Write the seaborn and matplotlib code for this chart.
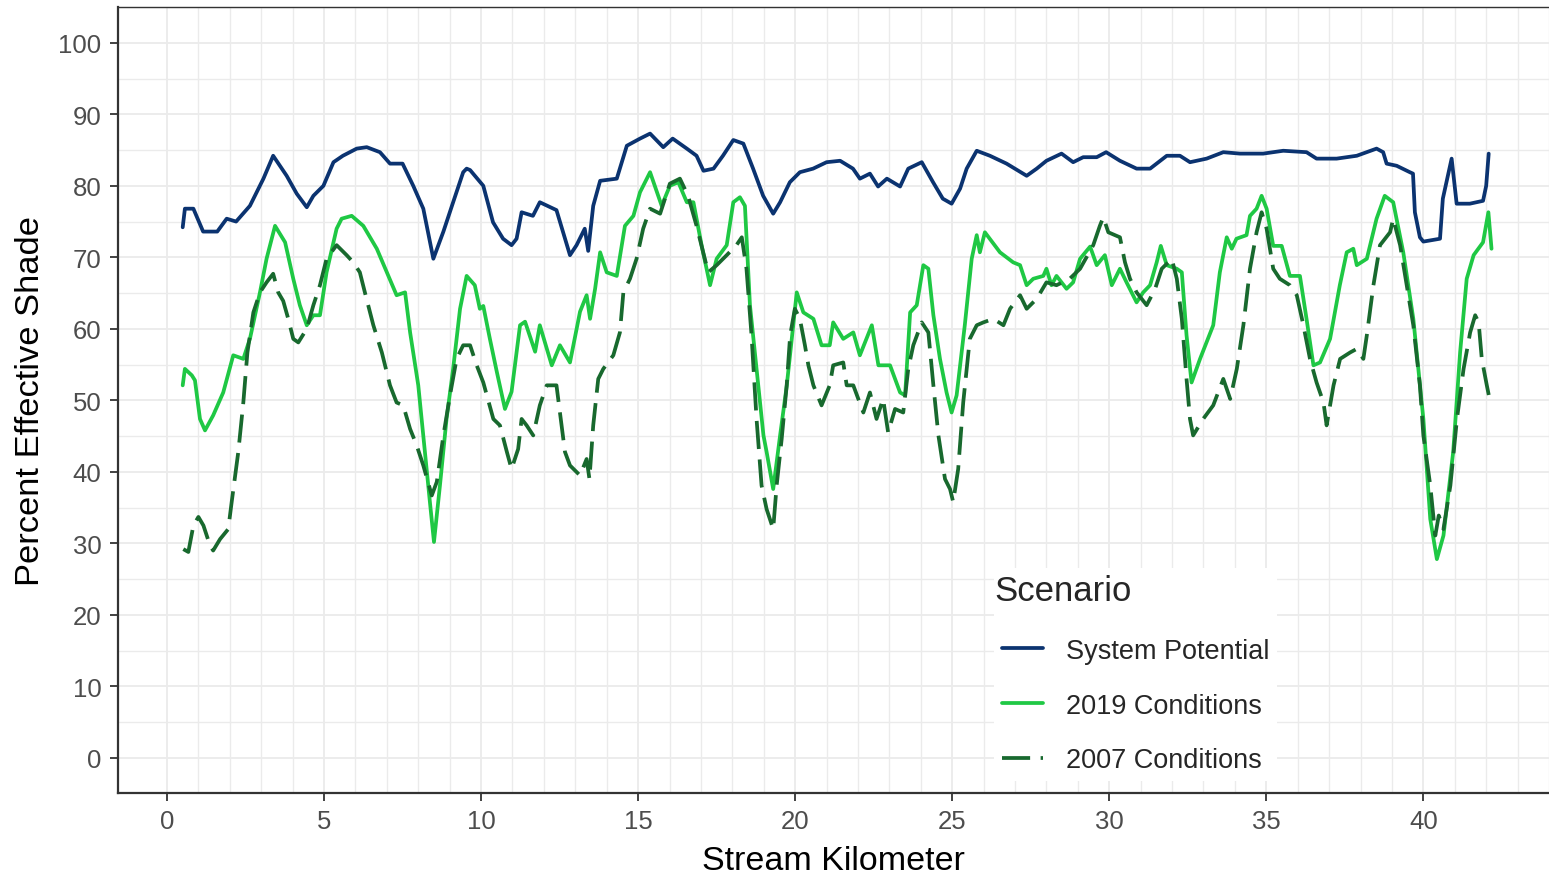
import matplotlib
matplotlib.use("Agg")
import numpy as np
import pandas as pd
import seaborn as sns
import matplotlib.pyplot as plt
from matplotlib.lines import Line2D
from matplotlib.ticker import FixedLocator

# ---------------- data ----------------
sp_km = [0.50, 0.57, 0.84, 1.15, 1.60, 1.90, 2.20, 2.64, 3.07, 3.38, 3.81, 4.13, 4.45, 4.66, 4.98,
         5.30, 5.60, 6.04, 6.36, 6.78, 7.10, 7.50, 7.84, 8.16, 8.48, 8.80, 9.11, 9.43, 9.54, 9.65,
         10.07, 10.38, 10.70, 10.97, 11.13, 11.29, 11.65, 11.87, 12.40, 12.83, 13.04, 13.30, 13.41,
         13.57, 13.79, 14.32, 14.64, 15.06, 15.38, 15.80, 16.10, 16.55, 16.86, 17.08, 17.40, 17.70,
         18.03, 18.35, 18.66, 18.98, 19.30, 19.52, 19.83, 20.15, 20.57, 21.00, 21.43, 21.84, 22.06,
         22.38, 22.64, 22.92, 23.34, 23.60, 24.03, 24.39, 24.70, 24.98, 25.25, 25.46, 25.78, 26.20,
         26.73, 27.37, 27.69, 28.00, 28.48, 28.85, 29.17, 29.60, 29.90, 30.34, 30.87, 31.30, 31.83,
         32.25, 32.57, 33.10, 33.63, 34.16, 34.90, 35.54, 36.28, 36.60, 37.24, 37.88, 38.51, 38.72,
         38.83, 39.15, 39.57, 39.67, 39.73, 39.89, 40.00, 40.53, 40.62, 40.90, 41.06, 41.48, 41.90,
         42.00, 42.08]
sp_val = [74.2, 76.8, 76.8, 73.6, 73.6, 75.4, 75.0, 77.2, 81.0, 84.2, 81.4, 78.9, 77.0, 78.6, 80.0,
          83.3, 84.2, 85.2, 85.4, 84.7, 83.1, 83.1, 80.0, 76.8, 69.8, 73.6, 77.7, 81.9, 82.4, 82.2,
          80.0, 74.9, 72.6, 71.7, 72.6, 76.3, 75.8, 77.7, 76.6, 70.3, 71.7, 74.0, 70.9,
          77.2, 80.7, 81.0, 85.6, 86.6, 87.3, 85.4, 86.6, 85.2, 84.2, 82.1, 82.4, 84.2,
          86.4, 85.9, 82.4, 78.6, 76.1, 77.7, 80.5, 81.9, 82.4, 83.3, 83.5, 82.4, 81.0,
          81.7, 79.9, 81.0, 79.9, 82.4, 83.3, 80.5, 78.2, 77.5, 79.6, 82.4, 84.9, 84.2,
          83.1, 81.4, 82.4, 83.5, 84.5, 83.3, 84.0, 84.0, 84.7, 83.5, 82.4, 82.4, 84.2,
          84.2, 83.3, 83.8, 84.7, 84.5, 84.5, 84.9, 84.7, 83.8, 83.8, 84.2, 85.2, 84.7,
          83.1, 82.8, 81.9, 81.7, 76.3, 72.8, 72.2, 72.6, 78.2, 83.8, 77.5, 77.5, 77.9,
          80.0, 84.5]

c19_km = [0.50, 0.57, 0.79, 0.89, 1.05, 1.21, 1.47, 1.79, 2.11, 2.43, 2.64, 2.96, 3.17, 3.44, 3.76,
          4.02, 4.23, 4.45, 4.66, 4.87, 5.08, 5.40, 5.56, 5.88, 6.25, 6.68, 7.00, 7.31, 7.58, 7.74,
          8.00, 8.21, 8.37, 8.50, 8.69, 8.90, 9.11, 9.33, 9.54, 9.80, 9.96, 10.07, 10.28, 10.50,
          10.76, 10.97, 11.24, 11.40, 11.72, 11.87, 12.25, 12.51, 12.83, 13.15, 13.36, 13.47, 13.63,
          13.79, 14.00, 14.32, 14.58, 14.85, 15.06, 15.38, 15.75, 16.01, 16.28, 16.55, 16.76, 17.02,
          17.29, 17.50, 17.82, 18.03, 18.24, 18.40, 18.56, 18.77, 18.99, 19.09, 19.30, 19.52, 19.73,
          20.05, 20.26, 20.58, 20.84, 21.10, 21.21, 21.53, 21.85, 22.06, 22.44, 22.65, 23.02, 23.34,
          23.50, 23.66, 23.87, 24.08, 24.24, 24.40, 24.61, 24.82, 24.98, 25.14, 25.40, 25.62, 25.78,
          25.88, 26.04, 26.52, 26.94, 27.16, 27.37, 27.58, 27.90, 28.00, 28.16, 28.32, 28.64, 28.85,
          29.07, 29.39, 29.60, 29.86, 30.08, 30.34, 30.55, 30.87, 31.08, 31.30, 31.51, 31.64, 31.83,
          32.15, 32.31, 32.46, 32.62, 32.89, 33.31, 33.52, 33.74, 33.90, 34.05, 34.37, 34.48, 34.69,
          34.85, 35.01, 35.22, 35.49, 35.75, 36.07, 36.28, 36.50, 36.71, 37.03, 37.34, 37.56, 37.77,
          37.88, 38.20, 38.51, 38.77, 39.04, 39.36, 39.68, 40.00, 40.22, 40.43, 40.64, 40.95, 41.17,
          41.38, 41.60, 41.90, 42.07, 42.17]
c19_val = [52.1, 54.4, 53.5, 52.8, 47.4, 45.8, 47.9, 51.1, 56.3, 55.8, 58.6, 65.1, 69.8, 74.4, 72.1,
           67.0, 63.3, 60.5, 61.9, 61.9, 67.9, 74.0, 75.4, 75.8, 74.4, 71.2, 67.9, 64.7, 65.1, 59.5,
           52.1, 42.8, 35.8, 30.2, 38.1, 47.4, 54.4, 62.8, 67.4, 66.1, 62.8, 63.2, 58.6, 54.0,
           48.8, 51.2, 60.5, 61.0, 56.8, 60.5, 54.9, 57.7, 55.3, 62.4, 64.7, 61.4, 65.6,
           70.7, 67.9, 67.4, 74.4, 75.8, 79.1, 81.9, 77.2, 80.0, 80.5, 77.7, 77.7, 71.7,
           66.1, 69.8, 71.7, 77.7, 78.4, 77.2, 63.3, 54.4, 45.1, 42.8, 37.6, 45.1, 52.0,
           65.1, 62.3, 61.4, 57.7, 57.7, 60.9, 58.6, 59.5, 56.3, 60.5, 54.9, 54.9, 51.1,
           50.7, 62.3, 63.3, 68.9, 68.4, 61.9, 55.8, 51.1, 48.3, 50.7, 60.5, 69.8, 73.1,
           70.7, 73.5, 70.7, 69.3, 68.9, 66.1, 67.0, 67.4, 68.4, 66.1, 67.4, 65.6, 66.5,
           69.8, 71.5, 68.9, 70.3, 66.1, 68.4, 66.5, 63.7, 65.1, 66.1, 69.3, 71.6, 68.9,
           68.4, 67.9, 59.1, 52.5, 55.8, 60.5, 67.9, 72.8, 71.2, 72.6, 73.1, 75.8, 76.8,
           78.6, 76.8, 71.6, 71.6, 67.4, 67.4, 61.4, 54.9, 55.3, 58.6, 66.1, 70.7, 71.2,
           68.9, 69.8, 75.4, 78.6, 77.7, 70.7, 61.4, 47.4, 33.4, 27.8, 31.1, 42.8, 56.7,
           67.0, 70.3, 72.1, 76.3, 71.2]

c07_km = [0.52, 0.68, 0.84, 1.00, 1.16, 1.37, 1.47, 1.69, 1.95, 2.06, 2.27, 2.43, 2.56, 2.75, 2.96,
          3.17, 3.38, 3.54, 3.70, 3.86, 4.02, 4.18, 4.45, 4.66, 4.87, 5.08, 5.40, 5.72, 5.93, 6.14,
          6.30, 6.57, 6.84, 7.10, 7.31, 7.52, 7.74, 7.95, 8.16, 8.43, 8.59, 8.80, 9.01, 9.22, 9.43,
          9.65, 9.86, 10.07, 10.39, 10.60, 10.82, 10.97, 11.18, 11.29, 11.45, 11.66, 11.87, 12.09,
          12.40, 12.51, 12.67, 12.83, 13.15, 13.36, 13.45, 13.57, 13.73, 13.89, 14.21, 14.42, 14.53,
          14.74, 14.95, 15.16, 15.38, 15.70, 16.01, 16.33, 16.59, 16.86, 17.07, 17.23, 17.50, 17.82,
          18.13, 18.30, 18.45, 18.61, 18.77, 18.93, 19.09, 19.30, 19.41, 19.57, 19.73, 19.84, 19.99,
          20.15, 20.31, 20.42, 20.58, 20.84, 21.10, 21.21, 21.53, 21.64, 21.85, 22.17, 22.38, 22.59,
          22.80, 22.96, 23.18, 23.44, 23.60, 23.76, 24.03, 24.24, 24.40, 24.56, 24.77, 24.93, 25.03,
          25.19, 25.35, 25.56, 25.78, 25.99, 26.31, 26.63, 26.84, 27.16, 27.37, 27.69, 28.00, 28.32,
          28.74, 29.07, 29.49, 29.70, 29.81, 29.97, 30.34, 30.50, 30.66, 30.87, 31.19, 31.46, 31.67,
          31.99, 32.15, 32.31, 32.46, 32.57, 32.67, 32.99, 33.31, 33.63, 33.85, 34.06, 34.27, 34.48,
          34.69, 34.85, 35.01, 35.22, 35.43, 35.75, 35.97, 36.18, 36.39, 36.60, 36.82, 36.92, 37.14,
          37.35, 37.67, 37.88, 38.09, 38.20, 38.41, 38.62, 38.94, 39.04, 39.26, 39.47, 39.68, 39.89,
          40.00, 40.22, 40.38, 40.49, 40.64, 40.86, 41.07, 41.28, 41.49, 41.65, 41.76, 41.86, 42.02,
          42.13]
c07_val = [29.2, 28.8, 32.5, 33.7, 32.5, 29.7, 29.0, 30.6, 32.0, 35.8, 42.8, 49.7, 56.7, 62.3, 65.1,
           66.5, 67.7, 65.1, 63.9, 61.4, 58.6, 58.1, 60.0, 63.3, 66.1, 69.8, 71.7, 70.3, 69.3, 67.9,
           65.1, 60.5, 56.7, 52.1, 49.7, 49.3, 46.0, 43.7, 40.9, 36.7, 38.6, 45.1, 50.7, 55.8, 57.7,
           57.7, 54.9, 52.5, 47.4, 46.5, 42.8, 40.4, 43.2, 47.4, 46.5, 45.1, 49.3, 52.1,
           52.1, 48.3, 42.8, 40.9, 39.5, 41.8, 39.0, 46.5, 53.0, 54.4, 56.3, 59.5, 65.1,
           67.0, 69.8, 74.0, 76.8, 76.1, 80.3, 81.0, 78.6, 74.4, 70.7, 67.9, 68.9, 70.3,
           71.7, 72.8, 68.4, 59.1, 47.4, 38.1, 34.8, 32.0, 38.1, 44.6, 52.1, 59.1, 62.8,
           61.4, 57.7, 54.9, 52.1, 49.3, 52.1, 54.9, 55.3, 52.1, 52.1, 48.3, 51.1, 47.4,
           50.2, 45.5, 48.8, 48.3, 54.4, 57.7, 60.9, 59.5, 52.1, 45.1, 39.0, 37.6, 35.8,
           40.4, 49.7, 58.6, 60.5, 60.9, 61.4, 60.5, 62.8, 64.7, 62.8, 64.2, 66.5, 66.1,
           67.0, 68.4, 71.7, 74.4, 75.6, 73.5, 72.8, 69.3, 67.0, 65.1, 63.3, 65.6, 68.4,
           69.8, 67.0, 61.4, 53.0, 47.4, 45.1, 47.4, 49.3, 53.0, 50.2, 54.4, 60.5, 68.4,
           73.5, 76.3, 74.0, 68.4, 67.0, 66.1, 64.7, 60.5, 55.8, 52.5, 49.7, 46.5, 52.1,
           55.8, 56.7, 57.2, 55.8, 59.1, 66.1, 71.7, 73.5, 75.4, 71.7, 66.1, 60.5, 52.1,
           45.1, 38.1, 31.1, 33.9, 32.0, 38.1, 47.4, 54.4, 59.5, 61.9, 60.9, 55.8, 52.1,
           49.7]

scenarios = ["System Potential", "2019 Conditions", "2007 Conditions"]
x_ticks = [0, 5, 10, 15, 20, 25, 30, 35, 40]
y_ticks = [0, 10, 20, 30, 40, 50, 60, 70, 80, 90, 100]

colors = {"System Potential": "#0b3370", "2019 Conditions": "#1fc844", "2007 Conditions": "#18692e"}
dash = (7.5, 2.8)
LW = 2.7

df = pd.concat([
    pd.DataFrame({"km": sp_km, "shade": sp_val, "Scenario": scenarios[0]}),
    pd.DataFrame({"km": c19_km, "shade": c19_val, "Scenario": scenarios[1]}),
    pd.DataFrame({"km": c07_km, "shade": c07_val, "Scenario": scenarios[2]}),
], ignore_index=True)

sns.set_theme(style="white")
plt.rcParams['font.family'] = ['Liberation Sans', 'DejaVu Sans']

W, H = 1549, 879
fig = plt.figure(figsize=(W / 100, H / 100), dpi=100)
ax = fig.add_axes([118 / W, 85 / H, 1 - 118 / W, 786 / H])

sns.lineplot(data=df, x="km", y="shade", hue="Scenario", style="Scenario",
             hue_order=scenarios, style_order=scenarios, palette=colors,
             dashes={"System Potential": "", "2019 Conditions": "", "2007 Conditions": dash},
             estimator=None, sort=True, linewidth=LW, legend=False, ax=ax)

ax.set_xlim(-1.56, 44.0)
ax.set_ylim(-4.9, 105.0)

ax.xaxis.set_major_locator(FixedLocator(x_ticks))
ax.yaxis.set_major_locator(FixedLocator(y_ticks))
ax.xaxis.set_minor_locator(FixedLocator([k for k in range(0, 45) if k % 5 != 0]))
ax.yaxis.set_minor_locator(FixedLocator([v for v in range(0, 106, 5) if v % 10 != 0]))
ax.grid(which="major", color="#ebebeb", linewidth=1.3)
ax.grid(which="minor", color="#ebebeb", linewidth=1.0)
ax.set_axisbelow(True)

ax.tick_params(axis="both", which="major", length=5.8, width=1.3, color="#333333",
               labelsize=18.5, labelcolor="#4d4d4d", pad=6, direction="out",
               bottom=True, left=True)
ax.tick_params(axis="both", which="minor", length=0)

for side in ["left", "bottom"]:
    ax.spines[side].set_color("#333333")
    ax.spines[side].set_linewidth(1.6)
ax.spines["top"].set_color("#333333")
ax.spines["top"].set_linewidth(1.0)
ax.spines["right"].set_visible(False)

ax.set_xlabel("Stream Kilometer", fontsize=24.5, color="black", labelpad=8.5)
ax.set_ylabel("Percent Effective Shade", fontsize=24.8, color="black", labelpad=9)

handles = [
    Line2D([], [], color=colors["System Potential"], linewidth=LW),
    Line2D([], [], color=colors["2019 Conditions"], linewidth=LW),
    Line2D([], [], color=colors["2007 Conditions"], linewidth=LW, linestyle=(0, dash)),
]
leg = ax.legend(handles, scenarios, title="Scenario", loc="upper left",
                bbox_to_anchor=(994 / W, 1 - 569 / H), bbox_transform=fig.transFigure,
                fontsize=19.5, title_fontsize=25, frameon=True, facecolor="white",
                edgecolor="none", fancybox=False, framealpha=1, handlelength=1.5,
                handletextpad=0.85, labelspacing=1.06, borderpad=0.3, borderaxespad=0,
                alignment="left")
leg.get_title().set_position((-8, 2))

fig.savefig("out.png", dpi=100)
